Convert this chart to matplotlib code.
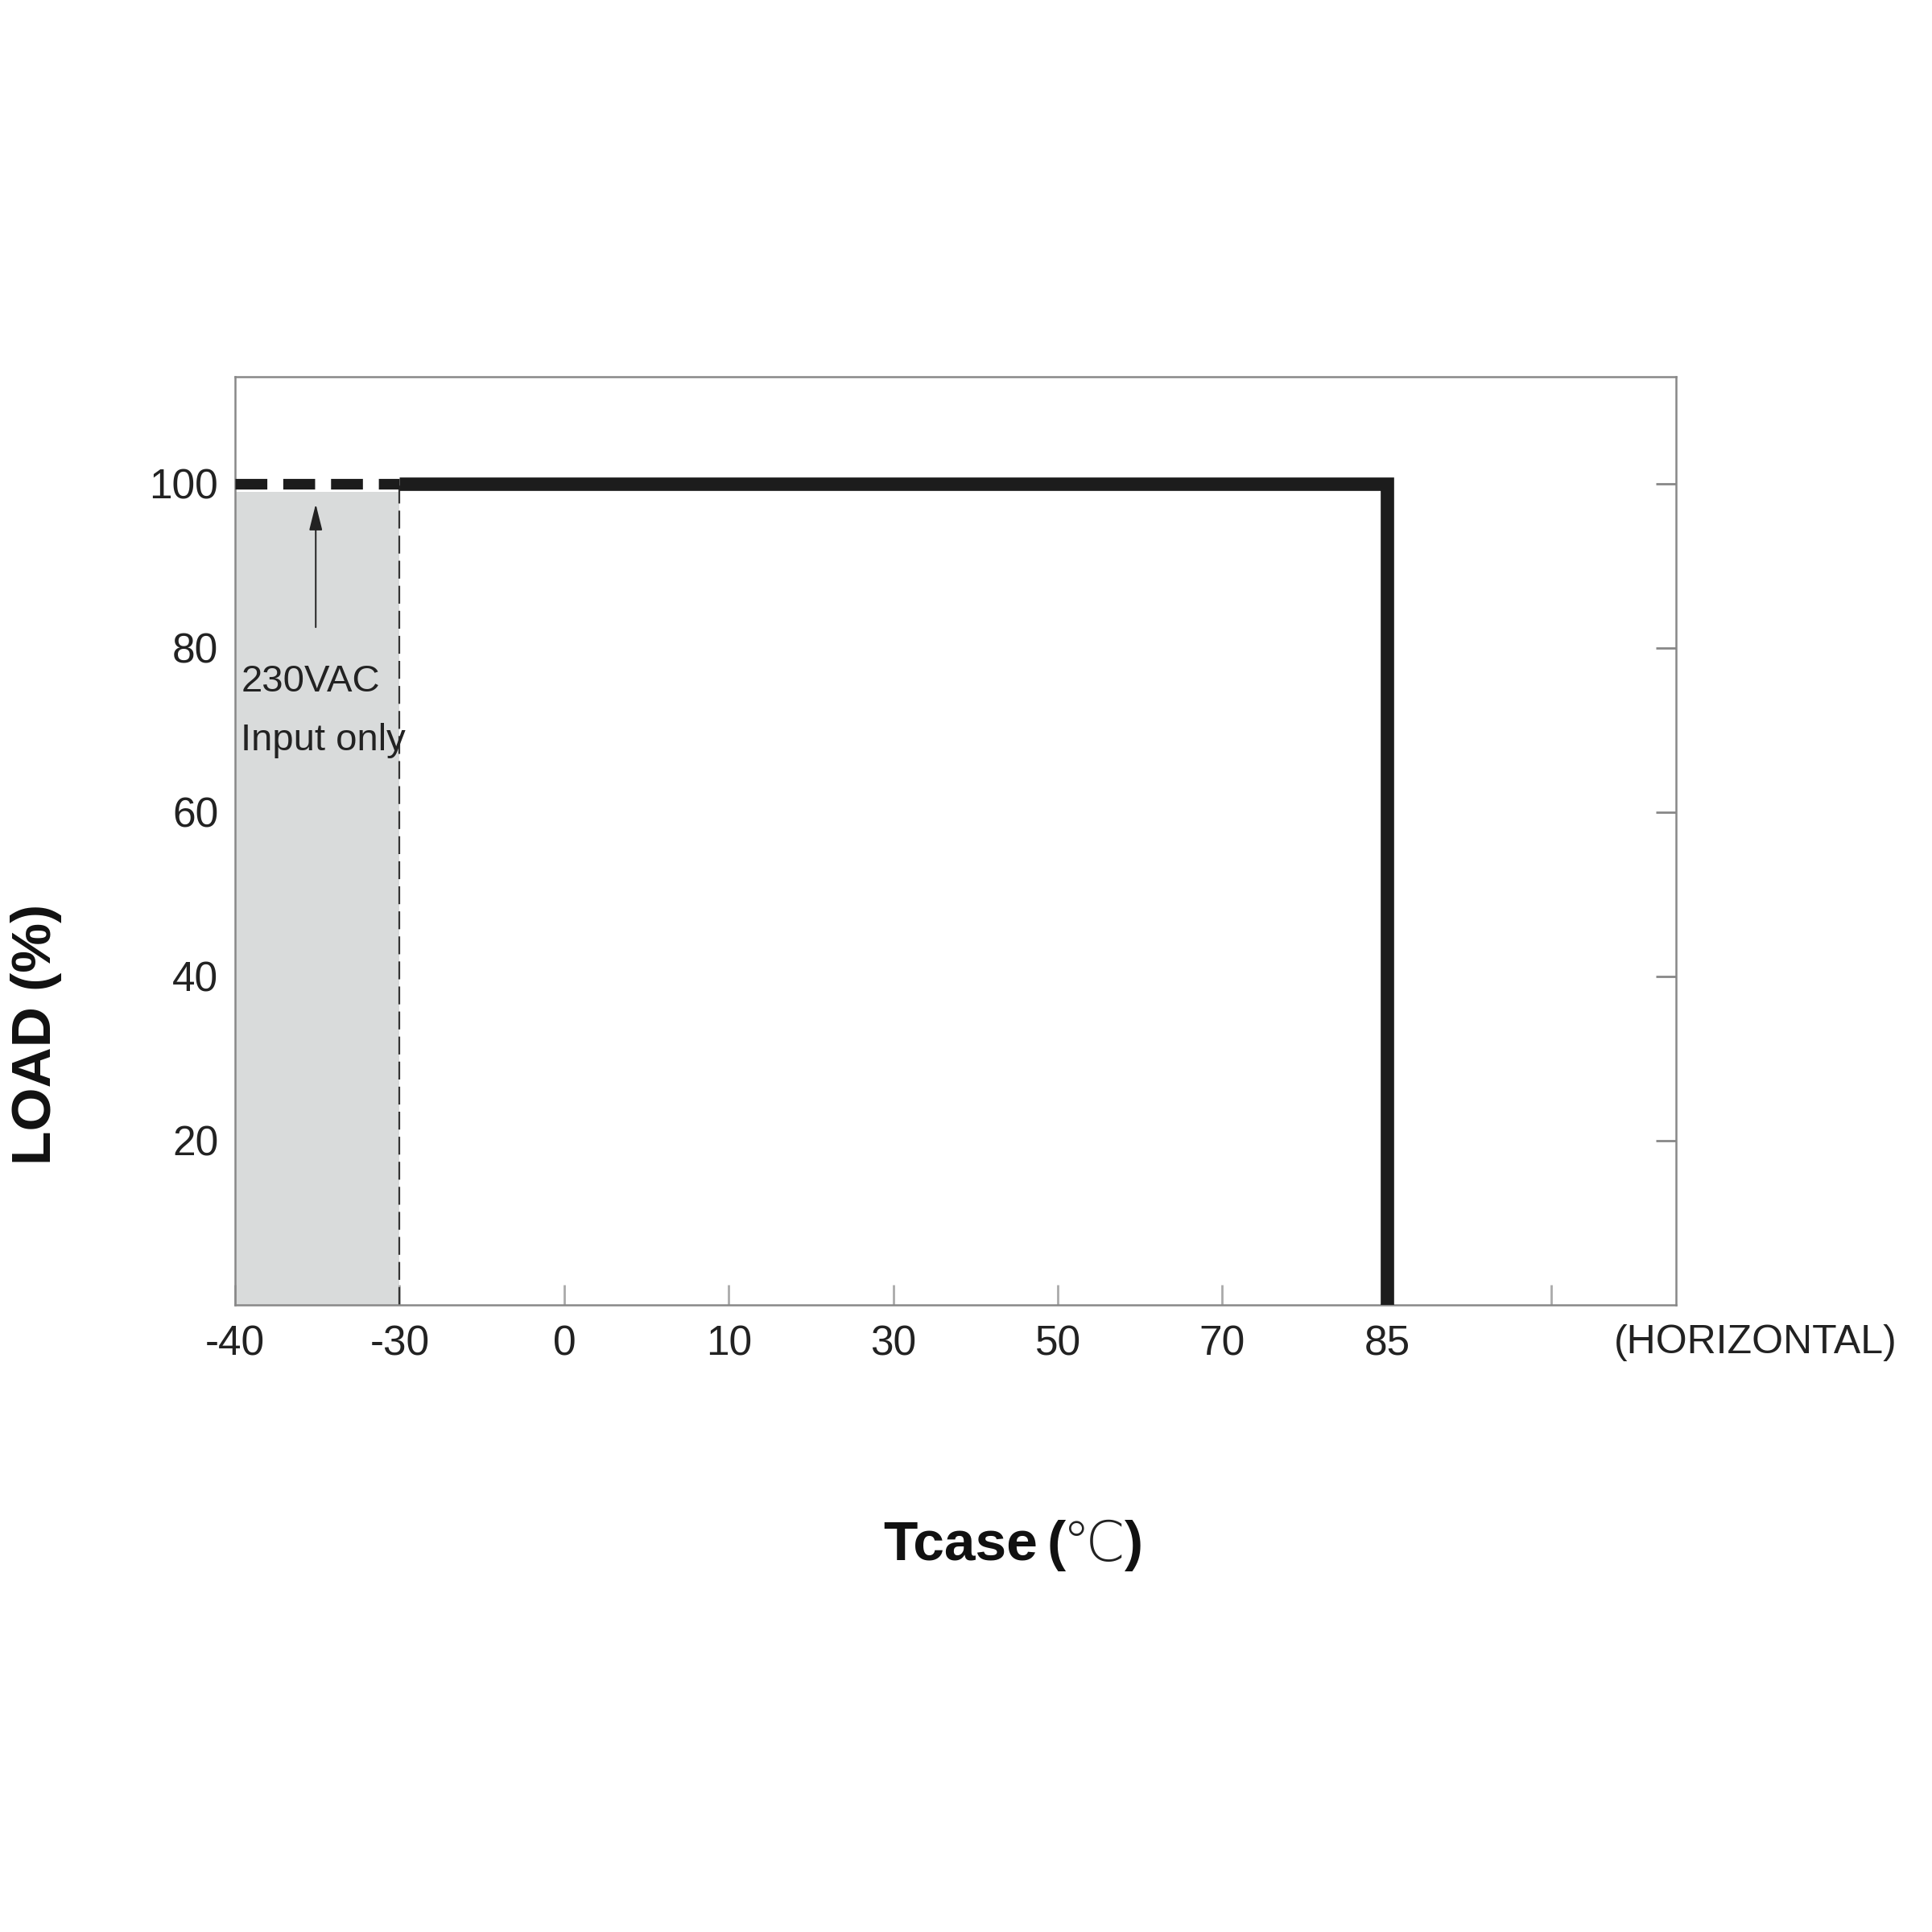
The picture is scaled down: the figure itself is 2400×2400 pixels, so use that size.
import numpy as np
import matplotlib.pyplot as plt

# ---- data ----
temps = [-40, -30, 0, 10, 30, 50, 70, 85]          # labelled ticks (non-linear axis)
tick_labels = ['-40', '-30', '0', '10', '30', '50', '70', '85', '']
load_ticks = [20, 40, 60, 80, 100]

dash_temp = [-40, -30]      # 230VAC only region
dash_load = [100, 100]
curve_temp = [-30, 85, 85]
curve_load = [100, 100, 0]

positions = np.arange(len(temps))


def tpos(t):
    # map temperature onto the evenly spaced tick positions
    return np.interp(t, temps, positions)


narrow = ['Liberation Sans Narrow', 'Liberation Sans', 'DejaVu Sans']
plt.rcParams['font.family'] = narrow

fig = plt.figure(figsize=(24, 24), dpi=100)
ax = fig.add_axes([0.1217, 0.3246, 0.7458, 0.4804])

line_col = '#1c1c1c'
gray = '#888888'

# shaded region + thin dashed border
ax.fill_between(tpos(dash_temp), 0, 99, color='#d9dbdb', lw=0, zorder=1)
ax.plot(tpos([-30, -30]), [0, 100], color='#333333', lw=1.6,
        dashes=(10, 4), zorder=2)

# derating curve
ax.plot(tpos(dash_temp), dash_load, color=line_col, lw=9.5,
        dashes=(3, 1.5), solid_capstyle='butt', dash_capstyle='butt', zorder=3)
ax.plot(tpos(curve_temp), curve_load, color=line_col, lw=12,
        solid_joinstyle='miter', solid_capstyle='butt', zorder=3)

# annotation
ax.annotate('', xy=(0.49, 97.5), xytext=(0.49, 82.5),
            arrowprops=dict(arrowstyle='-|>,head_length=1.0,head_width=0.25',
                            mutation_scale=20, color='#222222', lw=1.4,
                            shrinkA=0, shrinkB=0), zorder=4)
ax.text(0.035, 72.3, '230VAC\nInput only', fontsize=34, color='#222222',
        ha='left', va='center', linespacing=1.85, zorder=4)

ax.set_xlim(0, 8.757)
ax.set_ylim(0, 113)
ax.set_xticks(np.arange(len(tick_labels)))
ax.set_xticklabels(tick_labels)
ax.set_yticks(load_ticks)
ax.set_yticklabels([str(v) for v in load_ticks])

for s in ax.spines.values():
    s.set_color(gray)
    s.set_linewidth(1.8)

ax.tick_params(axis='x', direction='in', length=18, width=2, color='#aaaaaa',
               labelsize=37, labelcolor='#222222', pad=18)
ax.tick_params(axis='y', direction='in', length=18, width=2, color=gray,
               left=False, right=True, labelleft=True, labelright=False,
               labelsize=37, labelcolor='#222222', pad=15)

fig.text(2181 / 2400, 1 - 1668 / 2400, '(HORIZONTAL)', fontsize=36,
         color='#222222', ha='center', va='center')

# axis titles
bold = ['Liberation Sans', 'DejaVu Sans']
fig.text(45 / 2400, 1 - 1285 / 2400, 'LOAD (%)', rotation=90, fontsize=50,
         fontweight='bold', family=bold, ha='center', va='center', color='#111111')
ty = 1 - 1920 / 2400
fig.text(1097 / 2400, ty, 'Tcase', fontsize=50, fontweight='bold', family=bold,
         ha='left', va='center', color='#111111')
fig.text(1300 / 2400, ty, '(', fontsize=50, fontweight='bold', family=bold,
         ha='left', va='center', color='#111111')
fig.text(1320 / 2400, ty, '\u2103', fontsize=50, family=['DejaVu Sans', 'Noto Sans CJK SC'],
         ha='left', va='center', color='#222222', fontweight='light')
fig.text(1397 / 2400, ty, ')', fontsize=50, fontweight='bold', family=bold,
         ha='left', va='center', color='#111111')

fig.savefig('out.png', dpi=100, facecolor='white')
